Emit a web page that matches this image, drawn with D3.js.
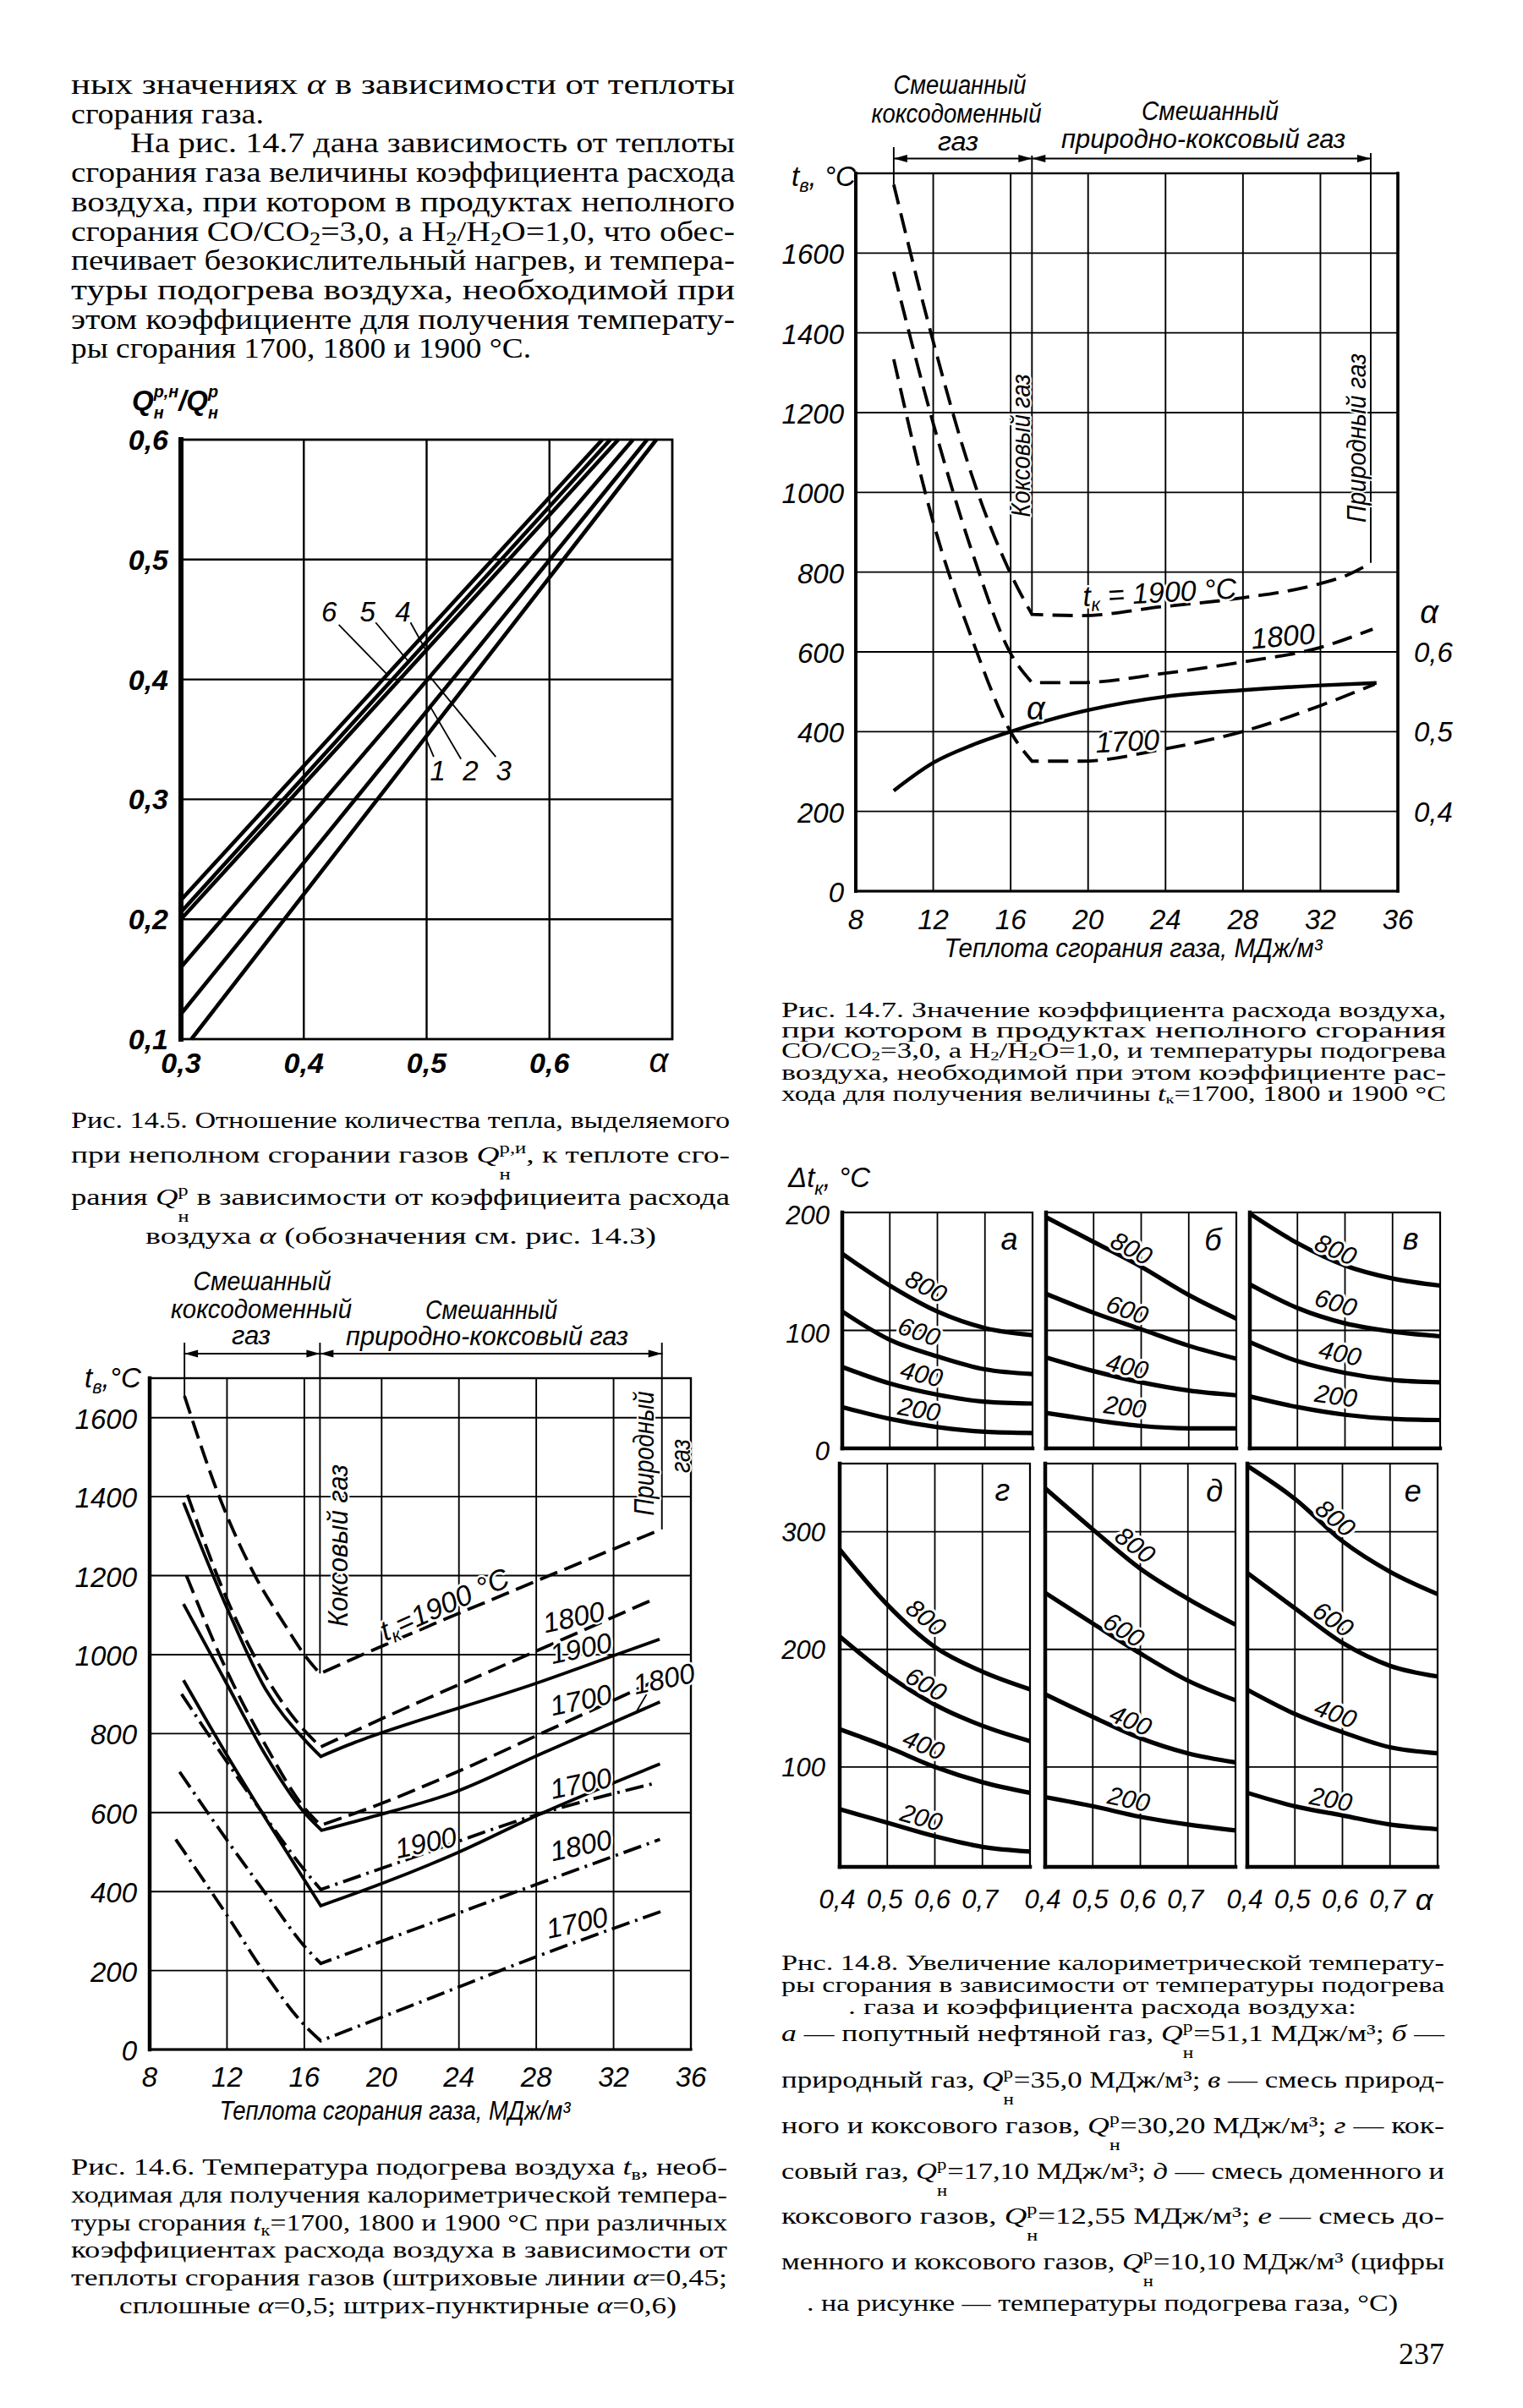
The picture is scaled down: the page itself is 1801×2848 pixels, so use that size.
<!DOCTYPE html>
<html><head><meta charset="utf-8">
<script src="https://cdn.jsdelivr.net/npm/d3@7/dist/d3.min.js"></script>
<style>html,body{margin:0;padding:0;background:#fff;} svg{display:block;}</style>
</head><body>
<svg id="page" width="1801" height="2848" xmlns="http://www.w3.org/2000/svg"></svg>
<script>
// ===================== DATA =====================
// ---- Fig 14.5 : ratio Q(incomplete)/Q vs alpha, six straight lines
const f145Names   = ["1","2","3","4","5","6"];
const f145Alpha0  = [0.3085,0.30,0.30,0.30,0.30,0.30];
const f145Ratio0  = [0.100,0.121,0.160,0.200,0.206,0.216];
const f145Alpha1  = [0.687,0.6795,0.668,0.656,0.6495,0.643];
const f145Ratio1  = [0.6,0.6,0.6,0.6,0.6,0.6];
const f145XTicks  = [0.3,0.4,0.5,0.6];
const f145YTicks  = [0.1,0.2,0.3,0.4,0.5,0.6];
const f145LabelAt = [[0.509,0.324],[0.5358,0.324],[0.5627,0.324],[0.4806,0.457],[0.452,0.457],[0.4206,0.457]];
const f145LeadFrom= [[0.5058,0.3355],[0.528,0.3336],[0.5563,0.3355],[0.4869,0.4475],[0.4585,0.4475],[0.4285,0.4456]];
const f145LeadToA = [0.499,0.503,0.5027,0.4995,0.4853,0.468];

// ---- Fig 14.6 : t_air vs heat value; dashed a=0.45, solid a=0.5, dash-dot a=0.6
const f146_d1900L = [[9.8,1655],[11.6,1400],[13.5,1195],[15,1075],[16,1000],[16.81,952]];
const f146_d1900R = [[16.81,952],[18.64,992],[28.04,1187],[34.46,1317]];
const f146_d1800L = [[9.95,1405],[12,1140],[14,945],[16,808],[16.85,766]];
const f146_d1800R = [[16.85,766],[18.64,807],[28.04,1010],[34.02,1139]];
const f146_d1700L = [[9.9,1200],[12,958],[14,770],[16,612],[16.85,568]];
const f146_d1700R = [[16.85,568],[19.4,612],[24,705],[28.25,800],[34.1,932]];
const f146_s1900L = [[9.75,1385],[12,1118],[14,912],[16,785],[16.85,742]];
const f146_s1900R = [[16.85,742],[18.63,778],[19.36,791],[28.04,928],[31.93,996],[34.38,1039]];
const f146_s1800L = [[9.75,1128],[12,925],[14,745],[16,600],[16.9,555]];
const f146_s1800R = [[16.9,555],[19.4,588],[23.8,652],[28.3,750],[34.4,880]];
const f146_s1700L = [[9.75,935],[12,745],[14,585],[16,430],[16.85,364]];
const f146_s1700R = [[16.85,364],[20,420],[24,500],[28,592],[34.4,723]];
const f146_p1900L = [[9.65,900],[12,728],[14,588],[16,455],[16.85,405]];
const f146_p1900R = [[16.85,405],[21.6,486],[28,594],[34.2,675]];
const f146_p1800L = [[9.55,703],[12,530],[14,395],[16,262],[16.85,218]];
const f146_p1800R = [[16.85,218],[22,310],[28,418],[34.4,532]];
const f146_p1700L = [[9.35,532],[12,340],[14,190],[16,62],[16.85,22]];
const f146_p1700R = [[16.85,22],[22,120],[28,235],[34.6,352]];
const f146XTicks = [8,12,16,20,24,28,32,36];
const f146YTicks = [0,200,400,600,800,1000,1200,1400,1600];
const f146LabelText = ["1800","1900","1700","1800","1700","1900","1800","1700"];
const f146LabelAt   = [[29.93,1096],[30.3,1017],[30.3,886],[34.6,940],[30.3,675],[22.28,525],[30.3,518],[30.1,322]];
const f146Leader    = [[33.2,857],[33.78,906]];
const f146Bounds    = [9.8,16.81,34.5];     // mixed coke-blast / coke / natural gas
const f146BoundEnd  = [1655,952,1317];

// ---- Fig 14.7 : alpha and t_air vs heat value (dashed t curves, solid alpha)
const f147_t1900L = [[9.96,1772],[12,1378],[14,1042],[15.95,801],[17.1,694]];
const f147_t1900R = [[17.1,694],[19.67,691],[23.76,713],[27.88,735],[31.98,771],[33.4,793],[34.6,823]];
const f147_t1800L = [[9.96,1553],[12,1173],[14,852],[16,596],[17.1,523]];
const f147_t1800R = [[17.1,523],[19.67,523],[23.76,545],[27.88,574],[31.98,611],[34.7,657]];
const f147_t1700L = [[9.96,1334],[12,925],[14,633],[16,399],[17.1,326]];
const f147_t1700R = [[17.1,326],[19.67,326],[23.76,355],[27.88,399],[31.98,465],[34.8,519]];
const f147_alpha  = [[9.96,0.426],[12,0.461],[14,0.483],[16,0.5],[20,0.527],[24,0.544],[28,0.552],[32,0.558],[34.9,0.561]];
const f147XTicks = [8,12,16,20,24,28,32,36];
const f147YTicks = [0,200,400,600,800,1000,1200,1400,1600];
const f147ATicks = [0.4,0.5,0.6];
const f147Bounds = [9.96,17.1,34.6];
const f147BoundEnd = [1772,694,823];

// ---- Fig 14.8 : delta t_k vs alpha, six panels, curves for gas preheat 800/600/400/200
const f148Alpha = [0.4,0.5,0.6,0.7,0.8];
const f148Temps = ["800","600","400","200"];
const f148_a = [[165,138,116,102,96],[116,92,78,67,63],[69,55,45.5,39.5,38],[35,25,18,14,13]];
const f148_b = [[196,175,154,130,110],[131,115,101,87,76],[77,65.5,56,49,45],[30,24,19,17,17]];
const f148_v = [[199,174,155,144,138],[139,119,106,99,95],[90,74,64,58,56],[44,35,28.5,25,24]];
const f148_g = [[285,238,202,181,166],[211,178.5,153,135,122],[132,117,100,87,78],[64,52.5,41,32,28]];
const f148_d = [[337,302,268.6,243,221],[248,222,196.5,173.4,156.7],[161.8,142.5,124.5,111.6,103.9],[74.3,66.6,57.6,51,46]];
const f148_e = [[356,328,292,266,247],[265,235,205.5,186,177],[165.6,145,129.6,116.7,111.6],[78,66.5,58.8,51,47]];
const f148Letters = ["а","б","в","г","д","е"];
const f148TopTicks = [0,100,200];
const f148BotTicks = [100,200,300];
const f148XTicks = [0.4,0.5,0.6,0.7];
const f148Lab_a = [[0.577,137.7],[0.562,99.4],[0.567,63.5],[0.562,33.5]];
const f148Lab_b = [[0.58,170],[0.571,118],[0.571,70],[0.566,35.7]];
const f148Lab_v = [[0.581,169],[0.581,124],[0.59,81],[0.581,45]];
const f148Lab_g = [[0.582,227.4],[0.582,170.8],[0.577,119.3],[0.572,57.5]];
const f148Lab_d = [[0.59,289],[0.566,217],[0.58,140],[0.576,73]];
const f148Lab_e = [[0.586,312],[0.581,226],[0.586,146],[0.576,73]];
const f148LetterAt = [[0.751,178],[0.751,177],[0.738,178],[0.742,336],[0.756,335],[0.748,335]];

// ===================== RENDER =====================
const CF = '"Liberation Sans Narrow","Liberation Sans","DejaVu Sans Condensed",Arial,sans-serif';
const SF = '"Liberation Serif","DejaVu Serif","Times New Roman",serif';
const svg = d3.select('#page');
svg.append('rect').attr('width',1801).attr('height',2848).attr('fill','#fff');

function rich(parent, str, o) {
  const size = o.size;
  const t = parent.append('text').attr('font-size', size).attr('font-family', o.family || SF)
    .attr('text-anchor', o.anchor || 'start').attr('fill', '#000');
  if (o.style) t.attr('font-style', o.style);
  if (o.weight) t.attr('font-weight', o.weight);
  if (o.baseline) t.attr('dominant-baseline', o.baseline);
  if (o.transform) t.attr('transform', o.transform).attr('x', 0).attr('y', 0);
  else t.attr('x', o.x).attr('y', o.y);
  if (o.halo) t.attr('stroke', '#fff').attr('stroke-width', o.halo).attr('stroke-linejoin', 'round').attr('paint-order', 'stroke');
  const parts = str.split(/(\^\{[^}]*\}|_\{[^}]*\}|~\{[^}]*\}|\*[^*]*\*)/).filter(s => s.length);
  let cur = 0, supW = 0, prevSup = false, pendingDx = 0;
  const ss = o.subScale || 0.66;
  for (const p of parts) {
    let txt = p, off = 0, fs = null, it = false, dx = 0, isSup = false, stacked = false;
    if (p.startsWith('^{')) { txt = p.slice(2,-1); off = -size*(o.supOff ?? 0.38); fs = size*ss; isSup = true; }
    else if (p.startsWith('_{')) { txt = p.slice(2,-1); off = size*(o.subOff ?? 0.22); fs = size*ss; }
    else if (p.startsWith('~{')) { txt = p.slice(2,-1); off = size*(o.deep ?? 0.7); fs = size*ss; if (prevSup) { dx = -supW; stacked = true; } }
    else if (p.length > 1 && p.startsWith('*') && p.endsWith('*')) { txt = p.slice(1,-1); it = true; }
    const ts = t.append('tspan').text(txt);
    if (off - cur !== 0) ts.attr('dy', off - cur);
    cur = off;
    if (fs) ts.attr('font-size', fs);
    if (it) ts.attr('font-style', 'italic');
    const totalDx = dx + pendingDx;
    if (totalDx) ts.attr('dx', totalDx);
    pendingDx = 0;
    let w = 0;
    try { w = ts.node().getComputedTextLength(); } catch(e) { w = txt.length * (fs || size) * 0.5; }
    if (isSup) supW = w;
    if (stacked && supW > w) pendingDx = supW - w;
    prevSup = isSup;
  }
  if (o.len) t.attr('textLength', o.len).attr('lengthAdjust', 'spacingAndGlyphs');
  return t;
}
function seg(g, x1, y1, x2, y2, w) {
  return g.append('line').attr('x1',x1).attr('y1',y1).attr('x2',x2).attr('y2',y2)
    .attr('stroke','#000').attr('stroke-width',w).attr('stroke-linecap','square');
}
function arrow(g, xt, yt, dir) {
  g.append('path').attr('d',`M${xt},${yt} L${xt-dir*16},${yt-4.5} L${xt-dir*16},${yt+4.5} Z`).attr('fill','#000');
}
const DASH = '22,9', DASHDOT = '22,7,3,7';

// ---------- page body text ----------
const bodyLines = [
  ["ных значениях *α* в зависимости от теплоты", 84, 785],
  ["сгорания газа.", 84, 228],
  ["На рис. 14.7 дана зависимость от теплоты", 154, 715],
  ["сгорания газа величины коэффициента расхода", 84, 785],
  ["воздуха, при котором в продуктах неполного", 84, 785],
  ["сгорания CO/CO_{2}=3,0, а H_{2}/H_{2}O=1,0, что обес-", 84, 785],
  ["печивает безокислительный нагрев, и темпера-", 84, 785],
  ["туры подогрева воздуха, необходимой при", 84, 785],
  ["этом коэффициенте для получения температу-", 84, 785],
  ["ры сгорания 1700, 1800 и 1900 °С.", 84, 544]
];
bodyLines.forEach((l,i) => rich(svg, l[0], {x:l[1], y:111+i*34.7, size:34, len:l[2], subOff:0.15}));

// ---------- Fig 14.5 ----------
(function(){
  const g = svg.append('g');
  const x = d3.scaleLinear().domain([0.3,0.7]).range([214,795]);
  const y = d3.scaleLinear().domain([0.1,0.6]).range([1229,520]);
  g.selectAll('line.vg').data([0.4,0.5,0.6]).join('line').attr('class','vg')
    .attr('x1',d=>x(d)).attr('x2',d=>x(d)).attr('y1',y(0.1)).attr('y2',y(0.6)).attr('stroke','#000').attr('stroke-width',2.4);
  g.selectAll('line.hg').data([0.2,0.3,0.4,0.5]).join('line').attr('class','hg')
    .attr('x1',x(0.3)).attr('x2',x(0.7)).attr('y1',d=>y(d)).attr('y2',d=>y(d)).attr('stroke','#000').attr('stroke-width',2.4);
  g.append('rect').attr('x',x(0.3)).attr('y',y(0.6)).attr('width',x(0.7)-x(0.3)).attr('height',y(0.1)-y(0.6))
    .attr('fill','none').attr('stroke','#000').attr('stroke-width',2.8);
  seg(g, x(0.3), y(0.1), x(0.3), y(0.6), 6);
  const gen = d3.line().x(d=>x(d[0])).y(d=>y(d[1]));
  f145Names.forEach((n,i) => {
    g.append('path').attr('d', gen([[f145Alpha0[i],f145Ratio0[i]],[f145Alpha1[i],f145Ratio1[i]]]))
      .attr('fill','none').attr('stroke','#000').attr('stroke-width',4.6);
  });
  f145Names.forEach((n,i) => {
    const a = f145LeadToA[i];
    const r = f145Ratio0[i] + (a-f145Alpha0[i])*(f145Ratio1[i]-f145Ratio0[i])/(f145Alpha1[i]-f145Alpha0[i]);
    seg(g, x(f145LeadFrom[i][0]), y(f145LeadFrom[i][1]), x(a), y(r), 1.8).attr('stroke-linecap','butt');
    rich(g, n, {x:x(f145LabelAt[i][0]), y:y(f145LabelAt[i][1]), size:33, family:CF, style:'italic', anchor:'middle', baseline:'central'});
  });
  f145YTicks.forEach(v => rich(g, v.toFixed(1).replace('.',','), {x:199, y:y(v), size:34, family:CF, style:'italic', weight:'bold', anchor:'end', baseline:'central'}));
  f145XTicks.forEach(v => rich(g, v.toFixed(1).replace('.',','), {x:x(v), y:1257, size:34, family:CF, style:'italic', weight:'bold', anchor:'middle', baseline:'central'}));
  rich(g, 'α', {x:779, y:1254, size:40, family:CF, style:'italic', anchor:'middle', baseline:'central'});
  rich(g, 'Q^{р,н}~{н}/Q^{р}~{н}', {x:156, y:485, size:33, family:CF, style:'italic', weight:'bold', deep:0.3, supOff:0.45, subScale:0.6});
})();

// caption 14.5
[
  ["Рис. 14.5. Отношение количества тепла, выделяемого", 84, 1334, 779],
  ["при неполном сгорании газов *Q*^{р,и}~{н}, к теплоте сго-", 84, 1375, 779],
  ["рания *Q*^{р}~{н} в зависимости от коэффициеита расхода", 84, 1425, 779],
  ["воздуха *α* (обозначения см. рис. 14.3)", 172, 1471, 604]
].forEach(l => rich(svg, l[0], {x:l[1], y:l[2], size:28, len:l[3], deep:0.72}));

// ---------- Fig 14.6 ----------
(function(){
  const g = svg.append('g');
  const x = d3.scaleLinear().domain([8,36]).range([177,817]);
  const y = d3.scaleLinear().domain([0,1700]).range([2424,1630]);
  g.selectAll('line.vg').data(f146XTicks.slice(1,-1)).join('line').attr('class','vg')
    .attr('x1',d=>x(d)).attr('x2',d=>x(d)).attr('y1',y(0)).attr('y2',y(1700)).attr('stroke','#000').attr('stroke-width',1.9);
  g.selectAll('line.hg').data(f146YTicks.slice(1)).join('line').attr('class','hg')
    .attr('x1',x(8)).attr('x2',x(36)).attr('y1',d=>y(d)).attr('y2',d=>y(d)).attr('stroke','#000').attr('stroke-width',1.9);
  g.append('rect').attr('x',x(8)).attr('y',y(1700)).attr('width',x(36)-x(8)).attr('height',y(0)-y(1700))
    .attr('fill','none').attr('stroke','#000').attr('stroke-width',2.4);
  seg(g, x(8), y(0), x(8), y(1700), 4.5);
  seg(g, x(8), y(0), x(36), y(0), 3.2);
  const by = 1601, bt = 1588;
  seg(g, x(f146Bounds[0]), by, x(f146Bounds[2]), by, 1.8);
  f146Bounds.forEach((b,i) => seg(g, x(b), bt, x(b), y(f146BoundEnd[i]), 1.9).attr('stroke-linecap','butt'));
  arrow(g, x(f146Bounds[0]), by, -1); arrow(g, x(f146Bounds[1]), by, 1);
  arrow(g, x(f146Bounds[1]), by, -1); arrow(g, x(f146Bounds[2]), by, 1);
  const hf = {family:CF, style:'italic', size:31, anchor:'middle'};
  rich(g, 'Смешанный', {...hf, x:310, y:1526, len:163});
  rich(g, 'коксодоменный', {...hf, x:309, y:1559, len:214});
  rich(g, 'газ', {...hf, x:297, y:1590, len:46});
  rich(g, 'Смешанный', {...hf, x:581, y:1560, len:156});
  rich(g, 'природно-коксовый газ', {...hf, x:576, y:1591, len:334});
  const gen = d3.line().x(d=>x(d[0])).y(d=>y(d[1])).curve(d3.curveMonotoneX);
  const series = [
    [f146_d1900L,f146_d1900R,DASH],[f146_d1800L,f146_d1800R,DASH],[f146_d1700L,f146_d1700R,DASH],
    [f146_s1900L,f146_s1900R,null],[f146_s1800L,f146_s1800R,null],[f146_s1700L,f146_s1700R,null],
    [f146_p1900L,f146_p1900R,DASHDOT],[f146_p1800L,f146_p1800R,DASHDOT],[f146_p1700L,f146_p1700R,DASHDOT]
  ];
  series.forEach(s => {
    const p = g.append('path').attr('d', gen(s[0]) + gen(s[1]).replace(/^M/,'L'))
      .attr('fill','none').attr('stroke','#000').attr('stroke-width',3.8).attr('stroke-linejoin','miter');
    if (s[2]) p.attr('stroke-dasharray', s[2]);
  });
  seg(g, x(f146Leader[0][0]), y(f146Leader[0][1]), x(f146Leader[1][0]), y(f146Leader[1][1]), 1.8);
  f146LabelText.forEach((t,i) => {
    const px = x(f146LabelAt[i][0]), py = y(f146LabelAt[i][1]);
    rich(g, t, {family:CF, style:'italic', size:33, anchor:'middle', baseline:'central', halo:5, transform:`translate(${px},${py}) rotate(-12)`});
  });
  { const px = x(23.24), py = y(1128);
    rich(g, '*t*_{к}=1900 °C', {family:CF, style:'italic', size:34, anchor:'middle', baseline:'central', halo:5, subOff:0.3, transform:`translate(${px},${py}) rotate(-24)`}); }
  rich(g, 'Коксовый газ', {family:CF, style:'italic', size:33, anchor:'middle', baseline:'central', len:192, halo:4, transform:`translate(399,1828) rotate(-90)`});
  rich(g, 'Природный', {family:CF, style:'italic', size:33, anchor:'middle', baseline:'central', len:147, halo:4, transform:`translate(761,1719) rotate(-90)`});
  rich(g, 'газ', {family:CF, style:'italic', size:33, anchor:'middle', baseline:'central', len:40, halo:4, transform:`translate(804,1722) rotate(-90)`});
  f146YTicks.forEach(v => rich(g, String(v), {x:162, y:y(v)+1, size:33, family:CF, style:'italic', anchor:'end', baseline:'central'}));
  f146XTicks.forEach(v => rich(g, String(v), {x:x(v), y:2456, size:33, family:CF, style:'italic', anchor:'middle', baseline:'central'}));
  rich(g, '*t*_{в},°C', {x:100, y:1641, size:33, family:CF, style:'italic'});
  rich(g, 'Теплота сгорания газа, МДж/м³', {x:467, y:2507, size:31, family:CF, style:'italic', anchor:'middle', len:415});
})();

// caption 14.6
[
  ["Рис. 14.6. Температура подогрева воздуха *t*_{в}, необ-", 84, 776],
  ["ходимая для получения калориметрической темпера-", 84, 776],
  ["туры сгорания *t*_{к}=1700, 1800 и 1900 °С при различных", 84, 776],
  ["коэффициентах расхода воздуха в зависимости от", 84, 776],
  ["теплоты сгорания газов (штриховые линии *α*=0,45;", 84, 776],
  ["сплошные *α*=0,5; штрих-пунктирные *α*=0,6)", 141, 659]
].forEach((l,i) => rich(svg, l[0], {x:l[1], y:2572+i*32.8, size:28, len:l[2], subOff:0.22}));

// ---------- Fig 14.7 ----------
(function(){
  const g = svg.append('g');
  const x = d3.scaleLinear().domain([8,36]).range([1012,1653]);
  const y = d3.scaleLinear().domain([0,1800]).range([1054,205]);
  const ya = d3.scaleLinear().domain([0.3,1.2]).range([1054,205]);
  g.selectAll('line.vg').data(f147XTicks.slice(1,-1)).join('line').attr('class','vg')
    .attr('x1',d=>x(d)).attr('x2',d=>x(d)).attr('y1',y(0)).attr('y2',y(1800)).attr('stroke','#000').attr('stroke-width',1.9);
  g.selectAll('line.hg').data(f147YTicks.slice(1)).join('line').attr('class','hg')
    .attr('x1',x(8)).attr('x2',x(36)).attr('y1',d=>y(d)).attr('y2',d=>y(d)).attr('stroke','#000').attr('stroke-width',1.9);
  g.append('rect').attr('x',x(8)).attr('y',y(1800)).attr('width',x(36)-x(8)).attr('height',y(0)-y(1800))
    .attr('fill','none').attr('stroke','#000').attr('stroke-width',2.4);
  seg(g, x(8), y(0), x(8), y(1800), 4);
  seg(g, x(36), y(0), x(36), y(1800), 3.6);
  seg(g, x(8), y(0), x(36), y(0), 3.2);
  const by = 187.5;
  seg(g, x(f147Bounds[0]), by, x(f147Bounds[2]), by, 1.8);
  [174,184,181].forEach((t,i) => seg(g, x(f147Bounds[i]), t, x(f147Bounds[i]), y(f147BoundEnd[i]), 1.9).attr('stroke-linecap','butt'));
  arrow(g, x(f147Bounds[0]), by, -1); arrow(g, x(f147Bounds[1]), by, 1);
  arrow(g, x(f147Bounds[1]), by, -1); arrow(g, x(f147Bounds[2]), by, 1);
  const hf = {family:CF, style:'italic', size:31, anchor:'middle'};
  rich(g, 'Смешанный', {...hf, x:1135, y:111, len:157});
  rich(g, 'коксодоменный', {...hf, x:1131, y:145, len:201});
  rich(g, 'газ', {...hf, x:1133, y:178, len:48});
  rich(g, 'Смешанный', {...hf, x:1431, y:142, len:162});
  rich(g, 'природно-коксовый газ', {...hf, x:1423, y:175, len:336});
  const gen = d3.line().x(d=>x(d[0])).y(d=>y(d[1])).curve(d3.curveMonotoneX);
  [[f147_t1900L,f147_t1900R],[f147_t1800L,f147_t1800R],[f147_t1700L,f147_t1700R]].forEach(s => {
    g.append('path').attr('d', gen(s[0]) + gen(s[1]).replace(/^M/,'L'))
      .attr('fill','none').attr('stroke','#000').attr('stroke-width',3.8).attr('stroke-dasharray','24,11');
  });
  const agen = d3.line().x(d=>x(d[0])).y(d=>ya(d[1])).curve(d3.curveMonotoneX);
  g.append('path').attr('d', agen(f147_alpha)).attr('fill','none').attr('stroke','#000').attr('stroke-width',4.4);
  const lf = {family:CF, style:'italic', size:34, anchor:'middle', baseline:'central', halo:5};
  rich(g, '*t*_{к} = 1900 °C', {...lf, subOff:0.3, transform:`translate(${x(23.69)},${y(750)}) rotate(-3)`});
  rich(g, '1800', {...lf, transform:`translate(${x(30.06)},${y(640)}) rotate(-5)`});
  rich(g, '1700', {...lf, transform:`translate(${x(22.03)},${y(377)}) rotate(-3)`});
  rich(g, 'α', {...lf, size:38, transform:`translate(${x(17.3)},${y(457)})`});
  rich(g, 'Коксовый газ', {family:CF, style:'italic', size:31, anchor:'middle', baseline:'central', len:169, halo:4, transform:`translate(1207,527) rotate(-90)`});
  rich(g, 'Природный газ', {family:CF, style:'italic', size:31, anchor:'middle', baseline:'central', len:200, halo:4, transform:`translate(1604,518) rotate(-90)`});
  f147YTicks.forEach(v => rich(g, String(v), {x:998, y:y(v)+1, size:33, family:CF, style:'italic', anchor:'end', baseline:'central'}));
  f147XTicks.forEach(v => rich(g, String(v), {x:x(v), y:1087, size:33, family:CF, style:'italic', anchor:'middle', baseline:'central'}));
  f147ATicks.forEach(v => rich(g, v.toFixed(1).replace('.',','), {x:1672, y:ya(v), size:33, family:CF, style:'italic', anchor:'start', baseline:'central'}));
  rich(g, 'α', {x:1690, y:ya(0.65), size:38, family:CF, style:'italic', anchor:'middle', baseline:'central'});
  rich(g, '*t*_{в}, °C', {x:936, y:220, size:33, family:CF, style:'italic'});
  rich(g, 'Теплота сгорания газа, МДж/м³', {x:1340, y:1132, size:31, family:CF, style:'italic', anchor:'middle', len:447});
})();

// caption 14.7
[
  ["Рис. 14.7. Значение коэффициента расхода воздуха,", 924, 1203, 786],
  ["при котором в продуктах неполного сгорания", 924, 1227, 786],
  ["CO/CO_{2}=3,0, а H_{2}/H_{2}O=1,0, и температуры подогрева", 924, 1251, 786],
  ["воздуха, необходимой при этом коэффициенте рас-", 924, 1277, 786],
  ["хода для получения величины *t*_{к}=1700, 1800 и 1900 °С", 924, 1302, 786]
].forEach(l => rich(svg, l[0], {x:l[1], y:l[2], size:25, len:l[3], subOff:0.1, subScale:0.6}));

// ---------- Fig 14.8 ----------
(function(){
  const g = svg.append('g');
  const W = 225;
  const panels = [
    {left:996,  top:1434, bot:1713, dom:[0,200],  data:f148_a, labs:f148Lab_a, hg:[100], row:0},
    {left:1237, top:1434, bot:1713, dom:[0,200],  data:f148_b, labs:f148Lab_b, hg:[100], row:0},
    {left:1478, top:1434, bot:1713, dom:[0,200],  data:f148_v, labs:f148Lab_v, hg:[100], row:0},
    {left:993,  top:1731, bot:2208, dom:[15,358], data:f148_g, labs:f148Lab_g, hg:[100,200,300], row:1},
    {left:1236, top:1731, bot:2208, dom:[15,358], data:f148_d, labs:f148Lab_d, hg:[100,200,300], row:1},
    {left:1475, top:1731, bot:2208, dom:[15,358], data:f148_e, labs:f148Lab_e, hg:[100,200,300], row:1}
  ];
  panels.forEach((P,pi) => {
    const x = d3.scaleLinear().domain([0.4,0.8]).range([P.left, P.left+W]);
    const y = d3.scaleLinear().domain(P.dom).range([P.bot, P.top]);
    const pg = g.append('g');
    [0.5,0.6,0.7].forEach(a => seg(pg, x(a), P.bot, x(a), P.top, 1.8).attr('stroke-linecap','butt'));
    P.hg.forEach(v => seg(pg, x(0.4), y(v), x(0.8), y(v), 1.8).attr('stroke-linecap','butt'));
    pg.append('rect').attr('x',x(0.4)).attr('y',P.top).attr('width',W).attr('height',P.bot-P.top)
      .attr('fill','none').attr('stroke','#000').attr('stroke-width',2.2);
    seg(pg, x(0.4), P.bot, x(0.4), P.top, 4.5);
    seg(pg, x(0.4), P.bot, x(0.8), P.bot, 4.5);
    const gen = d3.line().x((d,i)=>x(f148Alpha[i])).y(d=>y(d)).curve(d3.curveMonotoneX);
    P.data.forEach(vals => pg.append('path').attr('d', gen(vals)).attr('fill','none')
      .attr('stroke','#000').attr('stroke-width',5.2));
    P.data.forEach((vals,k) => {
      const f = d3.scaleLinear().domain(f148Alpha).range(vals);
      const a = P.labs[k][0];
      const ang = Math.atan2(y(f(a+0.03))-y(f(a-0.03)), x(a+0.03)-x(a-0.03))*180/Math.PI;
      rich(pg, f148Temps[k], {family:CF, style:'italic', size:30, anchor:'middle', baseline:'central', halo:6,
        transform:`translate(${x(a)},${y(P.labs[k][1])}) rotate(${ang})`});
    });
    rich(pg, f148Letters[pi], {x:x(f148LetterAt[pi][0]), y:y(f148LetterAt[pi][1]), size:36, family:CF, style:'italic', anchor:'middle', baseline:'central', halo:5});
    if (pi === 0) f148TopTicks.forEach(v => rich(g, String(v), {x:981, y:y(v)+3, size:31, family:CF, style:'italic', anchor:'end', baseline:'central'}));
    if (pi === 3) f148BotTicks.forEach(v => rich(g, String(v), {x:976, y:y(v), size:31, family:CF, style:'italic', anchor:'end', baseline:'central'}));
    if (P.row === 1) f148XTicks.forEach(v => rich(g, v.toFixed(1).replace('.',','), {x:x(v)-3, y:2246, size:31, family:CF, style:'italic', anchor:'middle', baseline:'central'}));
    if (pi === 5) rich(g, 'α', {x:x(0.8)-16, y:2246, size:36, family:CF, style:'italic', anchor:'middle', baseline:'central'});
  });
  rich(g, 'Δ*t*_{к}, °C', {x:932, y:1404, size:33, family:CF, style:'italic', subOff:0.28});
})();

// caption 14.8
[
  ["Рнс. 14.8. Увеличение калориметрической температу-", 924, 2330, 784, 26],
  ["ры сгорания в зависимости от температуры подогрева", 924, 2356, 784, 26],
  [". газа и коэффициента расхода воздуха:", 1003, 2382, 601, 26],
  ["*а* — попутный нефтяной газ, *Q*^{р}~{н}=51,1 МДж/м³; *б* —", 924, 2414, 784, 28],
  ["природный газ, *Q*^{р}~{н}=35,0 МДж/м³; *в* — смесь природ-", 924, 2469, 784, 28],
  ["ного и коксового газов, *Q*^{р}~{н}=30,20 МДж/м³; *г* — кок-", 924, 2523, 784, 28],
  ["совый газ, *Q*^{р}~{н}=17,10 МДж/м³; *д* — смесь доменного и", 924, 2577, 784, 28],
  ["коксового газов, *Q*^{р}~{н}=12,55 МДж/м³; *е* — смесь до-", 924, 2630, 784, 28],
  ["менного и коксового газов, *Q*^{р}~{н}=10,10 МДж/м³ (цифры", 924, 2684, 784, 28],
  [". на рисунке — температуры подогрева газа, °С)", 954, 2733, 699, 28]
].forEach(l => rich(svg, l[0], {x:l[1], y:l[2], size:l[4], len:l[3], deep:0.72}));
rich(svg, '237', {x:1708, y:2796, size:36, anchor:'end'});
</script>
</body></html>
